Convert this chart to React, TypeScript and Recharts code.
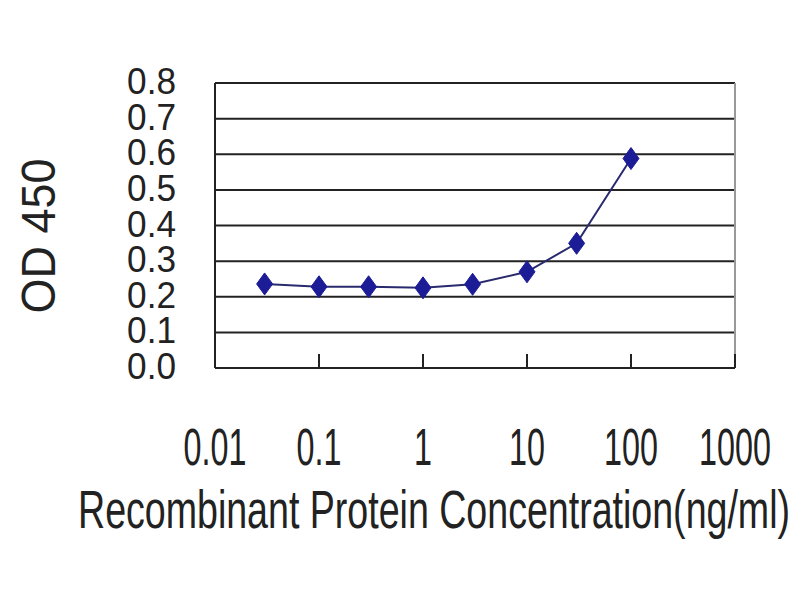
// OD450 vs recombinant protein concentration (log x)

import { LineChart, Line, XAxis, YAxis, CartesianGrid, Label, ReferenceLine } from 'recharts';

const concentrations = [0.03, 0.1, 0.3, 1, 3, 10, 30, 100];
const od450 = [0.236, 0.228, 0.228, 0.225, 0.235, 0.27, 0.35, 0.588];
const xTicks = [0.01, 0.1, 1, 10, 100, 1000];
const yTicks = [0, 0.1, 0.2, 0.3, 0.4, 0.5, 0.6, 0.7, 0.8];

const data = concentrations.map((c, i) => ({ conc: c, od: od450[i] }));

const FONT = 'Arial, "Liberation Sans", sans-serif';
const PLOT_BOTTOM = 368;

function XTick({ x, payload }: any) {
  return (
    <g>
      <line x1={x} x2={x} y1={PLOT_BOTTOM} y2={PLOT_BOTTOM - 14} stroke="#222" strokeWidth={2} />
      <text
        transform={`translate(${x},465) scale(0.95,1.55)`}
        textAnchor="middle"
        fontFamily={FONT}
        fontSize={34}
        fill="#222"
      >
        {String(payload.value)}
      </text>
    </g>
  );
}

function YTick({ y, payload }: any) {
  return (
    <text
      transform={`translate(176,${y + 11}) scale(1.1,1.15)`}
      textAnchor="end"
      fontFamily={FONT}
      fontSize={32}
      fill="#222"
    >
      {payload.value.toFixed(1)}
    </text>
  );
}

function Diamond({ cx, cy }: any) {
  if (cx == null || cy == null) return null;
  return (
    <polygon
      points={`${cx},${cy - 11} ${cx + 8},${cy} ${cx},${cy + 11} ${cx - 8},${cy}`}
      fill="#1c1c96"
      stroke="#1c1c96"
      strokeWidth={1}
    />
  );
}

export default function App() {
  return (
    <div style={{ position: 'absolute', left: 0, top: 0, width: 800, height: 600, background: '#fff' }}>
      <LineChart
        width={800}
        height={600}
        data={data}
        margin={{ top: 83, right: 65, left: 155, bottom: 202 }}
      >
        <CartesianGrid vertical={false} stroke="#222" strokeWidth={2} />
        <XAxis
          dataKey="conc"
          type="number"
          scale="log"
          domain={[0.01, 1000]}
          ticks={xTicks}
          allowDataOverflow
          height={30}
          tickLine={false}
          stroke="#222"
          strokeWidth={2}
          tick={<XTick />}
          interval={0}
        >
          <Label
            content={() => (
              <text
                transform="translate(434,528) scale(1,1.5)"
                textAnchor="middle"
                fontFamily={FONT}
                fontSize={36}
                fill="#222"
                textLength={712}
                lengthAdjust="spacingAndGlyphs"
              >
                Recombinant Protein Concentration(ng/ml)
              </text>
            )}
          />
        </XAxis>
        <YAxis
          type="number"
          domain={[0, 0.8]}
          ticks={yTicks}
          width={60}
          tickLine={false}
          stroke="#222"
          strokeWidth={2}
          tick={<YTick />}
          interval={0}
        >
          <Label
            content={() => (
              <text
                transform="translate(55,236) rotate(-90)"
                textAnchor="middle"
                fontFamily={FONT}
                fontSize={48}
                fill="#222"
                textLength={155}
                lengthAdjust="spacingAndGlyphs"
              >
                OD 450
              </text>
            )}
          />
        </YAxis>
        <ReferenceLine x={1000} stroke="#999" strokeWidth={2} />
        <Line
          dataKey="od"
          type="linear"
          stroke="#2a2a6e"
          strokeWidth={2}
          dot={<Diamond />}
          isAnimationActive={false}
        />
      </LineChart>
    </div>
  );
}
